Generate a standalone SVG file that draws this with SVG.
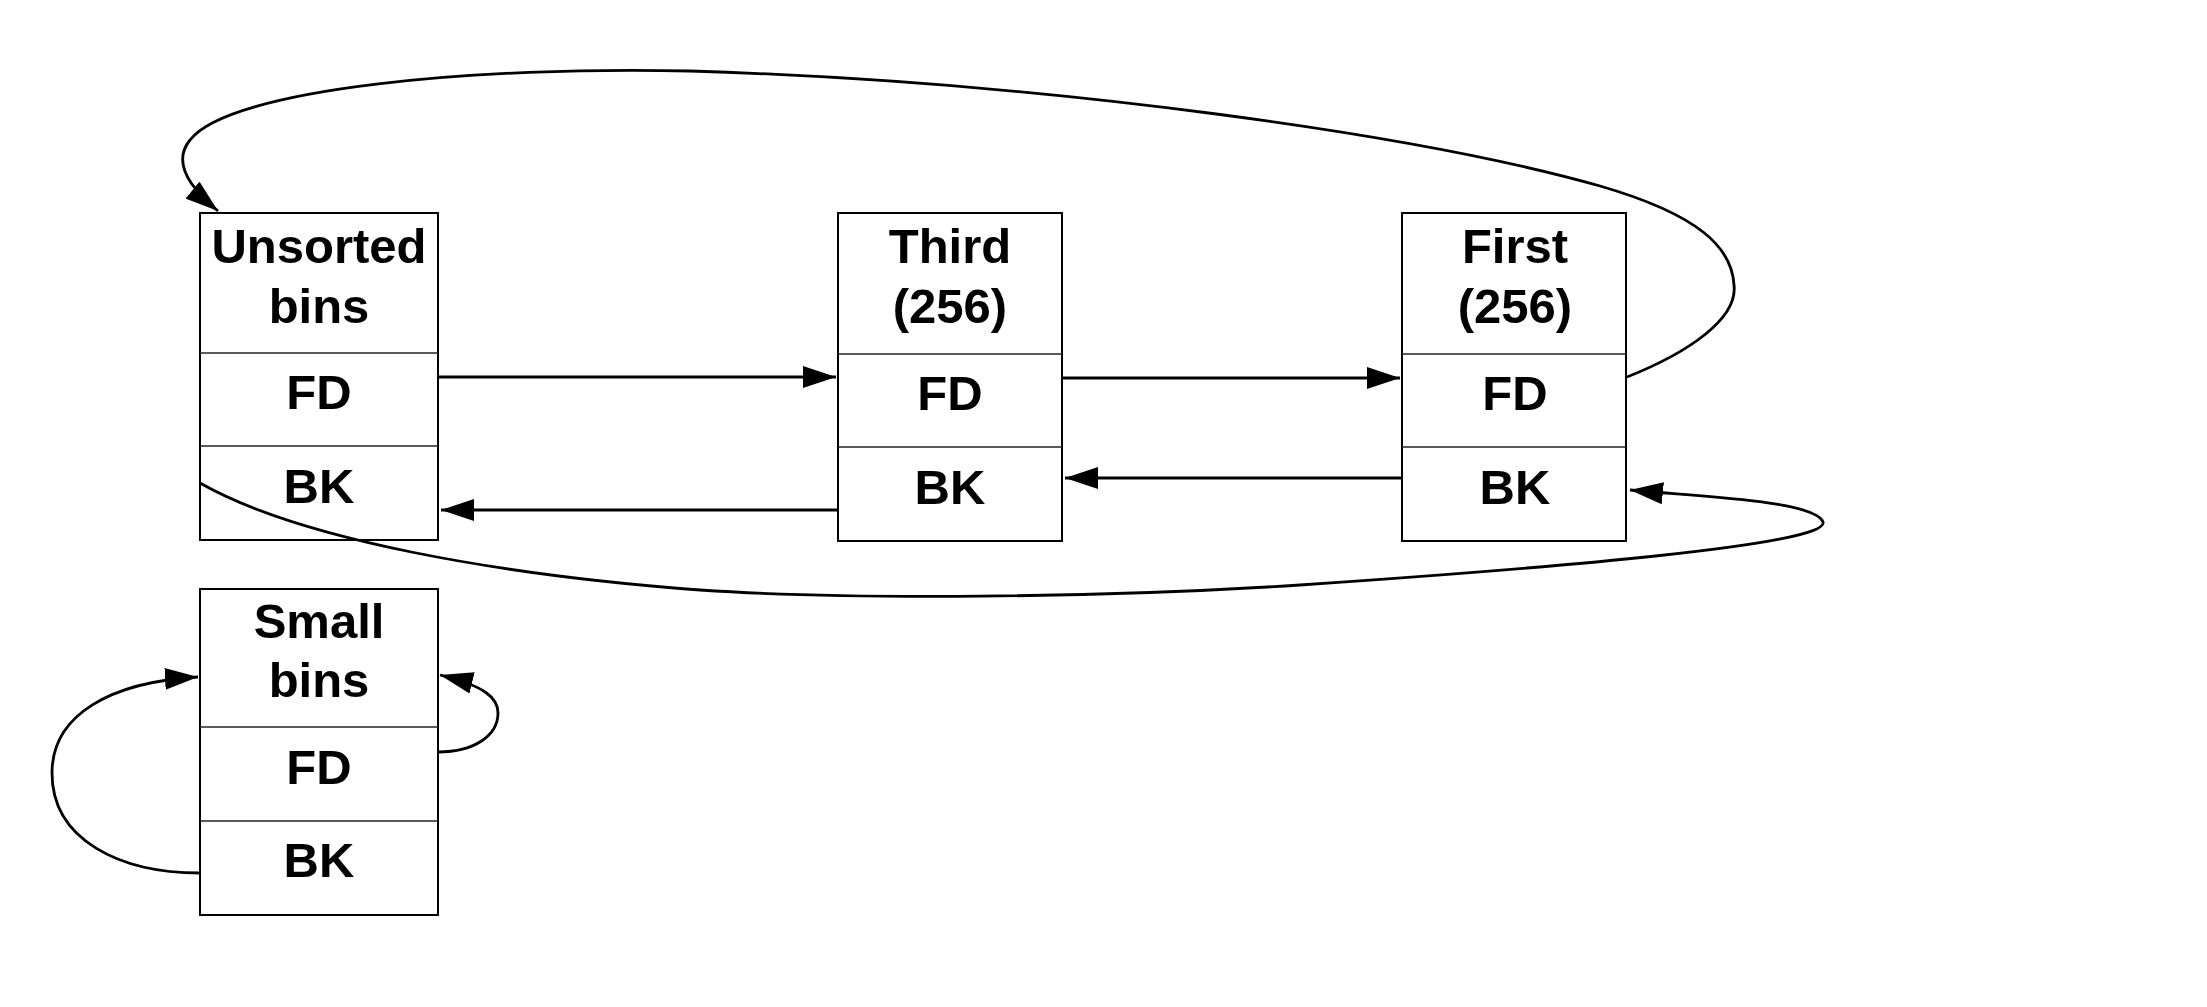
<svg xmlns="http://www.w3.org/2000/svg" width="2207" height="1007" viewBox="0 0 2207 1007">
<style>
.box{fill:#fff;stroke:#000;stroke-width:2}
.div{stroke:#222;stroke-width:1.3}
.t{font-family:"Liberation Sans",Arial,sans-serif;font-weight:bold;font-size:49px;text-anchor:middle;fill:#000}
.ln{fill:none;stroke:#000;stroke-width:3}
.cv{fill:none;stroke:#000;stroke-width:2.8}
</style>
<defs>
<marker id="ah" markerUnits="userSpaceOnUse" markerWidth="34" markerHeight="22" refX="33" refY="11" orient="auto" viewBox="0 0 34 22">
<path d="M0,0 L33,11 L0,22 Z" fill="#000"/>
</marker>
</defs>
<rect width="2207" height="1007" fill="#fff"/>
<g id="unsorted">
<rect class="box" x="200" y="213" width="238" height="327"/>
<line class="div" x1="200" y1="353" x2="438" y2="353"/>
<line class="div" x1="200" y1="446" x2="438" y2="446"/>
<text class="t" x="319" y="263">Unsorted</text>
<text class="t" x="319" y="323">bins</text>
<text class="t" x="319" y="409">FD</text>
<text class="t" x="319" y="503">BK</text>
</g>
<g id="third">
<rect class="box" x="838" y="213" width="224" height="328"/>
<line class="div" x1="838" y1="354" x2="1062" y2="354"/>
<line class="div" x1="838" y1="447" x2="1062" y2="447"/>
<text class="t" x="950" y="263">Third</text>
<text class="t" x="950" y="323">(256)</text>
<text class="t" x="950" y="410">FD</text>
<text class="t" x="950" y="504">BK</text>
</g>
<g id="first">
<rect class="box" x="1402" y="213" width="224" height="328"/>
<line class="div" x1="1402" y1="354" x2="1626" y2="354"/>
<line class="div" x1="1402" y1="447" x2="1626" y2="447"/>
<text class="t" x="1515" y="263">First</text>
<text class="t" x="1515" y="323">(256)</text>
<text class="t" x="1515" y="410">FD</text>
<text class="t" x="1515" y="504">BK</text>
</g>
<g id="small">
<rect class="box" x="200" y="589" width="238" height="326"/>
<line class="div" x1="200" y1="727" x2="438" y2="727"/>
<line class="div" x1="200" y1="821" x2="438" y2="821"/>
<text class="t" x="319" y="638">Small</text>
<text class="t" x="319" y="697">bins</text>
<text class="t" x="319" y="784">FD</text>
<text class="t" x="319" y="877">BK</text>
</g>
<g id="connectors">
<line class="ln" x1="438" y1="377" x2="836" y2="377" marker-end="url(#ah)"/>
<line class="ln" x1="838" y1="510" x2="441" y2="510" marker-end="url(#ah)"/>
<line class="ln" x1="1062" y1="378" x2="1400" y2="378" marker-end="url(#ah)"/>
<line class="ln" x1="1402" y1="478" x2="1065" y2="478" marker-end="url(#ah)"/>
<path class="cv" d="M1627,377 C1690,352 1738,318 1734,285 C1732,248 1700,215 1600,186 C1420,135 1050,82 690,71 C480,66 230,88 190,140 C172,162 190,188 218,211" marker-end="url(#ah)"/>
<path class="cv" d="M200,483 C300,540 500,575 700,590 C850,600 1100,598 1300,585 C1550,568 1830,545 1823,522 C1815,500 1690,496 1630,490" marker-end="url(#ah)"/>
<path class="cv" d="M200,873 C120,873 52,840 52,773 C52,715 110,682 198,677" marker-end="url(#ah)"/>
<path class="cv" d="M438,752 C475,752 498,735 498,713 C498,698 485,686 440,675" marker-end="url(#ah)"/>
</g>
</svg>
